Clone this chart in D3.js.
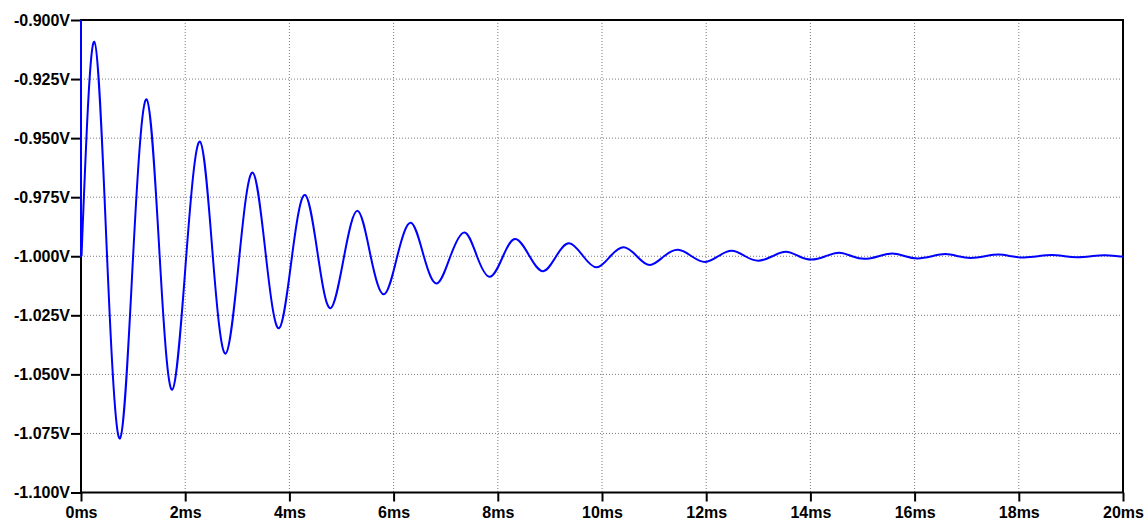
<!DOCTYPE html>
<html>
<head>
<meta charset="utf-8">
<script src="https://cdn.jsdelivr.net/npm/d3@7"></script>
<style>
  html, body { margin: 0; padding: 0; background: #ffffff; }
  svg { display: block; }
  .tick text { font-family: "Liberation Sans", Arial, sans-serif; font-weight: bold; font-size: 16px; fill: #000; }
</style>
</head>
<body>
<svg id="chart" width="1146" height="520"></svg>
<script>
// Tick values
const xTicks = [0, 2, 4, 6, 8, 10, 12, 14, 16, 18, 20];
const yTicks = [-1.100, -1.075, -1.050, -1.025, -1.000, -0.975, -0.950, -0.925, -0.900];

// Initial edge at t = 0 (comes down from above the visible range)
const startTime = [0, 0, 0.01];
const startVolts = [-0.85, -1.000, -1.000];

// Ringing waveform: peaks, crossings and troughs
const timeMs = [
  0.01, 0.255, 0.50, 0.749, 1.00, 1.26, 1.51, 1.753, 2.02, 2.284, 2.53, 2.777, 3.04, 3.295, 3.55, 3.80,
  4.05, 4.30, 4.55, 4.79, 5.05, 5.31, 5.56, 5.816, 6.07, 6.33, 6.58, 6.83, 7.09, 7.36, 7.60, 7.85,
  8.10, 8.34, 8.61, 8.87, 9.12, 9.37, 9.64, 9.90, 10.16, 10.42, 10.67, 10.92, 11.19, 11.46, 11.72, 11.98,
  12.23, 12.49, 12.75, 13.00, 13.27, 13.53, 13.78, 14.02, 14.29, 14.55, 14.80, 15.04, 15.31, 15.57, 15.82, 16.06,
  16.33, 16.59, 16.84, 17.08, 17.35, 17.61, 17.86, 18.10, 18.37, 18.63, 18.88, 19.12, 19.39, 19.65, 19.90, 20.00
];
const volts = [
  -1.000, -0.9092, -1.000, -1.0771, -1.000, -0.9336, -1.000, -1.0565, -1.000, -0.9515, -1.000, -1.0412, -1.000, -0.9646, -1.000, -1.0305,
  -1.000, -0.9741, -1.000, -1.0220, -1.000, -0.9808, -1.000, -1.0161, -1.000, -0.9858, -1.000, -1.0115, -1.000, -0.9899, -1.000, -1.0087,
  -1.000, -0.9927, -1.000, -1.0063, -1.000, -0.9945, -1.000, -1.0047, -1.000, -0.9962, -1.000, -1.0037, -1.000, -0.9973, -1.000, -1.0024,
  -1.000, -0.9977, -1.000, -1.0019, -1.000, -0.9981, -1.000, -1.0014, -1.000, -0.9985, -1.000, -1.0011, -1.000, -0.9988, -1.000, -1.0009,
  -1.000, -0.9991, -1.000, -1.0007, -1.000, -0.9993, -1.000, -1.0005, -1.000, -0.9995, -1.000, -1.0004, -1.000, -0.9996, -1.000, -1.0001
];

const W = 1146, H = 520;
const margin = { left: 81, top: 20, right: 23, bottom: 27.5 };
const svg = d3.select("#chart");

const x = d3.scaleLinear().domain([0, 20]).range([margin.left, W - margin.right]);
const y = d3.scaleLinear().domain([-1.1, -0.9]).range([H - margin.bottom, margin.top]);

// Grid
const grid = svg.append("g").attr("stroke", "#7a7a7a").attr("stroke-width", 1).attr("stroke-dasharray", "1,2");
grid.selectAll("line.v").data(xTicks.slice(1, -1)).join("line")
  .attr("x1", d => x(d)).attr("x2", d => x(d))
  .attr("y1", y(-0.9)).attr("y2", y(-1.1));
grid.selectAll("line.h").data(yTicks.slice(1, -1)).join("line")
  .attr("x1", x(0)).attr("x2", x(20))
  .attr("y1", d => y(d)).attr("y2", d => y(d));

// Axes
const yAxis = d3.axisLeft(y).tickValues(yTicks).tickSize(10).tickPadding(1)
  .tickFormat(d => d.toFixed(3) + "V");
const gy = svg.append("g").attr("transform", `translate(${x(0)},0)`).call(yAxis);
gy.select(".domain").remove();
gy.selectAll(".tick line").attr("stroke", "#000").attr("stroke-width", 2);

const xAxis = d3.axisBottom(x).tickValues(xTicks).tickSize(9).tickPadding(5)
  .tickFormat(d => d + "ms");
const gx = svg.append("g").attr("transform", `translate(0,${y(-1.1)})`).call(xAxis);
gx.select(".domain").remove();
gx.selectAll(".tick line").attr("stroke", "#000").attr("stroke-width", 2);

// Frame
svg.append("rect")
  .attr("x", x(0)).attr("y", y(-0.9))
  .attr("width", x(20) - x(0)).attr("height", y(-1.1) - y(-0.9))
  .attr("fill", "none").attr("stroke", "#000").attr("stroke-width", 2);

// Clip (slightly larger than plot so the t=0 edge shows over the axis)
svg.append("clipPath").attr("id", "clip").append("rect")
  .attr("x", x(0) - 1).attr("y", y(-0.9)).attr("width", x(20) - x(0) + 2).attr("height", y(-1.1) - y(-0.9));

const plot = svg.append("g").attr("clip-path", "url(#clip)");

const startData = startTime.map((t, i) => [t, startVolts[i]]);
const waveData = timeMs.map((t, i) => [t, volts[i]]);

plot.append("path")
  .datum(startData)
  .attr("fill", "none").attr("stroke", "#0000ff").attr("stroke-width", 2)
  .attr("d", d3.line().x(d => x(d[0])).y(d => y(d[1])));

plot.append("path")
  .datum(waveData)
  .attr("fill", "none").attr("stroke", "#0000ff").attr("stroke-width", 2)
  .attr("stroke-linejoin", "round")
  .attr("d", d3.line().curve(d3.curveNatural).x(d => x(d[0])).y(d => y(d[1])));
</script>
</body>
</html>
